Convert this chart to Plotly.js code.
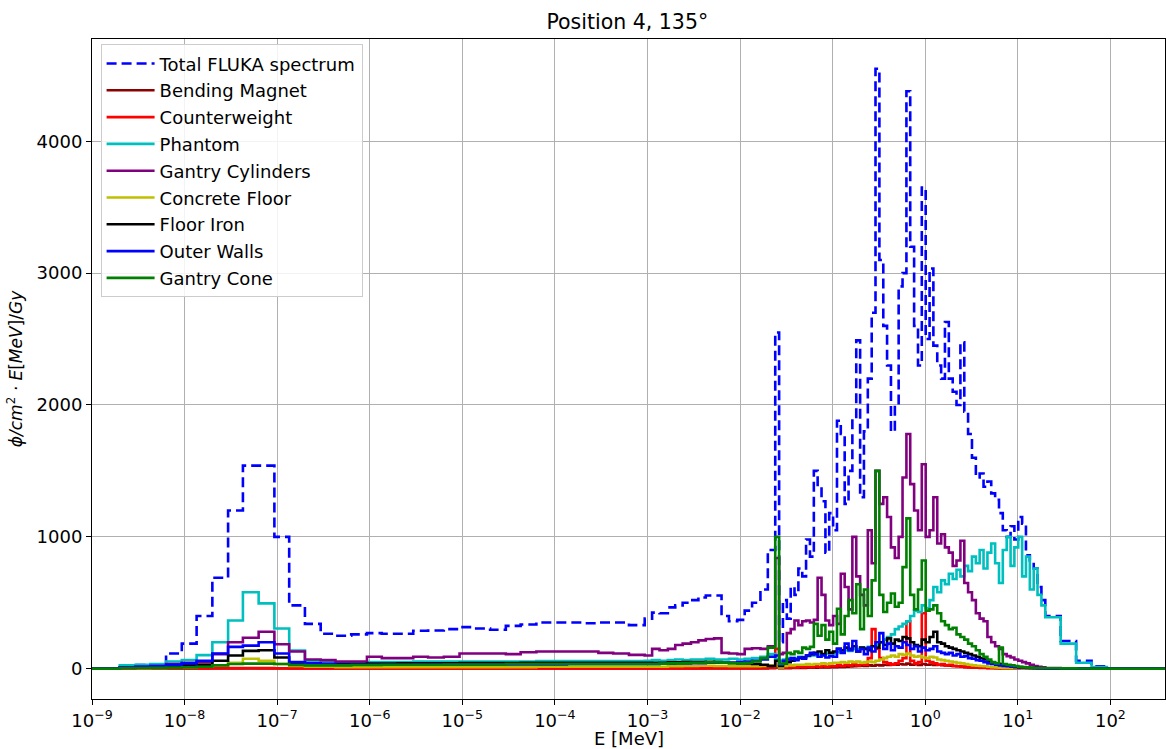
<!DOCTYPE html>
<html>
<head>
<meta charset="utf-8">
<script src="https://cdn.plot.ly/plotly-3.0.1.min.js"></script>
<style>html,body{margin:0;padding:0;background:#fff;}#chart{width:1166px;height:749px;}</style>
</head>
<body>
<div id="chart"></div>
<script>
// Energy bin edges, log10(E / MeV)
const binEdgeExponents = [
  -9.30,
  -8.70,-8.53,-8.37,-8.20,-8.03,-7.87,-7.70,-7.53,-7.37,-7.20,-7.03,-6.87,-6.70,-6.53,-6.37,-6.20,-6.03,-5.87,
  -5.70,-5.53,-5.37,-5.20,-5.03,-4.87,-4.70,-4.53,-4.37,-4.20,-4.03,-3.87,-3.70,-3.53,-3.37,-3.20,-3.03,
  -2.95,-2.87,-2.78,-2.70,-2.62,-2.53,-2.45,-2.37,-2.28,-2.20,-2.12,-2.03,-1.95,-1.87,-1.78,-1.70,-1.62,
  -1.578,-1.537,-1.495,-1.453,-1.412,-1.370,-1.328,-1.287,-1.245,-1.203,-1.162,-1.120,-1.078,-1.037,-0.995,
  -0.953,-0.912,-0.870,-0.828,-0.787,-0.745,-0.703,-0.662,-0.620,-0.578,-0.537,-0.495,-0.453,-0.412,-0.370,
  -0.328,-0.287,-0.245,-0.203,-0.162,-0.120,-0.078,-0.037,0.005,0.047,0.088,0.130,0.172,0.213,0.255,0.297,
  0.338,0.380,0.422,0.463,0.505,0.547,0.588,0.630,0.672,0.713,0.755,0.797,0.838,0.880,0.922,0.963,1.005,
  1.047,1.088,1.130,1.172,1.213,1.255,1.297,
  1.463,1.630,1.797,1.963,2.130,2.600
];

const totalFluka = [0,
  25,28,30,115,190,400,690,1200,1540,1540,1000,480,340,265,250,260,270,265,265,288,290,300,315,305,295,325,335,350,350,350,345,350,350,330,
  380,425,420,465,480,500,520,540,555,555,400,360,370,440,500,600,900,
  2550,200,520,380,620,560,760,700,980,850,
  1500,1380,1270,880,1180,1050,1880,1780,1250,1500,
  1900,2490,1300,1800,2200,2700,4550,3100,2600,2300,
  1800,2000,2900,3000,4380,3200,2600,2300,3650,2500,
  3035,2450,2300,2200,2630,2200,2100,2000,2475,1950,
  1780,1600,1450,1480,1380,1420,1330,1280,1180,1050,
  1000,1080,980,1150,1100,860,820,760,620,520,
  400,210,60,18,3,0];

const bendingMagnet = [0,
  1,1,1,1,1,1,2,2,2,2,2,1,1,1,1,1,1,1,1,1,1,1,1,1,1,1,1,1,1,1,1,1,1,1,
  2,2,2,2,2,2,2,2,2,2,2,2,2,2,2,2,3,
  10,3,4,4,5,5,6,6,7,8,
  8,9,10,10,12,12,14,14,15,16,
  18,20,22,20,25,22,28,25,30,28,
  32,30,35,32,38,30,34,28,36,30,
  32,28,30,26,25,22,20,18,16,14,
  12,10,9,8,7,6,5,4,4,3,
  3,2,2,2,1,1,1,1,1,1,
  0,0,0,0,0,0];

const counterweight = [0,
  1,1,1,2,2,2,3,4,5,4,3,2,2,2,2,2,2,2,2,2,2,2,2,2,2,2,2,2,2,2,2,2,2,2,
  2,2,2,2,2,2,2,2,3,3,3,3,3,3,4,5,8,
  150,5,8,10,12,10,15,12,15,12,
  18,15,20,15,20,18,25,20,30,25,
  35,25,40,30,80,300,150,80,50,40,
  30,40,60,80,360,60,40,50,420,60,
  50,40,30,35,25,30,20,18,15,12,
  10,8,7,6,5,4,3,3,2,2,
  2,1,1,1,1,1,1,1,1,1,
  0,0,0,0,0,0];

const phantom = [0,
  25,30,35,55,66,103,200,365,580,495,305,137,60,50,45,45,50,50,50,55,55,55,55,55,55,55,55,58,58,58,58,58,58,58,
  60,65,60,65,70,65,70,70,75,70,70,75,70,75,80,90,110,
  70,60,70,80,75,80,90,85,95,100,
  100,110,105,115,120,115,125,130,140,135,
  150,145,160,155,165,170,180,200,220,240,
  260,300,320,340,360,400,440,430,480,460,
  520,620,580,670,640,720,680,750,700,780,
  740,850,800,900,760,880,950,800,650,900,
  1000,780,920,1000,700,850,600,760,560,480,
  390,190,45,12,2,0];

const gantryCylinders = [0,
  10,15,20,35,45,50,110,200,235,280,185,130,70,65,55,55,90,80,80,90,85,90,115,115,115,110,125,130,130,130,130,120,115,105,
  100,150,140,150,180,190,200,215,225,230,120,115,110,150,155,150,170,
  840,110,120,270,300,365,330,360,365,350,
  370,690,560,365,330,400,340,720,620,450,
  1000,700,560,480,1050,800,1500,1250,1300,1150,
  920,840,1000,1450,1780,1400,1200,1050,1550,1000,
  1050,1300,950,1020,920,880,780,820,970,650,
  580,520,420,380,360,240,200,170,150,110,
  95,85,70,60,50,40,30,20,15,10,
  5,3,2,1,0,0];

const concreteFloor = [0,
  3,4,5,8,10,15,25,45,75,60,35,20,15,15,12,12,12,12,12,12,12,12,12,12,12,12,12,15,15,15,15,15,15,15,
  15,15,15,18,18,20,20,22,22,20,20,18,18,18,18,20,25,
  20,10,20,25,25,30,30,30,35,30,
  35,35,40,35,40,45,45,50,45,55,
  50,55,45,50,55,50,60,70,80,90,
  100,90,110,105,115,100,90,95,85,80,
  90,85,70,65,60,55,50,45,40,35,
  30,25,22,20,18,15,12,10,8,6,
  5,4,3,3,2,2,1,1,1,1,
  1,0,0,0,0,0];

const floorIron = [0,
  5,8,10,18,25,30,60,100,135,140,85,45,35,35,35,35,38,38,40,40,40,40,42,42,42,42,45,45,45,45,45,45,45,45,
  45,45,45,48,48,50,50,50,52,50,45,45,40,40,35,30,20,
  60,20,40,50,60,70,80,85,100,110,
  120,130,110,140,120,130,150,140,160,150,
  170,130,160,150,140,170,160,200,180,230,
  190,220,210,240,230,200,180,170,220,200,
  240,280,200,190,170,160,150,140,130,120,
  110,100,90,80,70,55,45,40,35,30,
  25,20,15,12,10,8,5,5,3,3,
  2,1,1,0,0,0];

const outerWalls = [0,
  10,15,20,30,40,60,115,165,175,200,115,50,40,35,30,30,30,30,30,32,32,32,32,32,32,32,32,32,32,35,35,35,35,35,
  35,35,38,38,40,40,42,42,45,45,45,45,50,55,60,70,90,
  100,30,60,70,80,65,85,75,100,120,
  110,90,100,85,95,90,150,120,190,140,
  210,130,150,110,160,130,200,270,150,190,
  140,170,160,200,180,150,170,130,160,140,
  150,170,130,120,110,120,100,110,90,95,
  80,75,65,60,50,40,35,30,25,20,
  18,15,12,10,8,6,5,4,3,3,
  2,1,1,0,0,0];

const gantryCone = [0,
  5,5,6,8,10,15,25,35,38,38,35,28,25,25,25,28,28,30,30,30,30,32,32,32,32,35,35,35,35,35,35,35,35,35,
  35,35,38,40,40,42,45,45,48,48,45,40,40,45,55,80,160,
  1000,35,40,120,110,130,120,160,150,165,
  340,250,330,220,280,190,455,260,400,520,
  420,640,300,600,400,670,1500,560,430,500,
  570,470,500,770,1140,560,450,600,820,440,
  450,480,420,360,330,300,310,260,240,220,
  190,170,140,110,90,70,50,40,160,35,
  30,25,20,15,12,10,8,5,5,5,
  3,2,1,0,0,0];

const seriesNames = ['Total FLUKA spectrum','Bending Magnet','Counterweight','Phantom','Gantry Cylinders',
  'Concrete Floor','Floor Iron','Outer Walls','Gantry Cone'];
const seriesValues = [totalFluka, bendingMagnet, counterweight, phantom, gantryCylinders,
  concreteFloor, floorIron, outerWalls, gantryCone];
const seriesColors = ['#0000ff','#8b0000','#ff0000','#00bfbf','#800080','#bfbf00','#000000','#0000ff','#008000'];

const xTickExponents = [-9,-8,-7,-6,-5,-4,-3,-2,-1,0,1,2];
const yTickValues = [0,1000,2000,3000,4000];

const edgesMeV = binEdgeExponents.map(e => Math.pow(10, e));

const traces = seriesValues.map((vals, i) => ({
  type: 'scatter',
  mode: 'lines',
  name: seriesNames[i],
  legendgroup: 'g' + i,
  x: edgesMeV,
  y: vals.concat([vals[vals.length - 1]]),
  line: {shape: 'hv', color: seriesColors[i], width: 2.6, dash: i === 0 ? '10px,5px' : 'solid'},
  hoverinfo: 'skip'
}));

const layout = {
  width: 1166, height: 749,
  margin: {l: 92, r: 1, t: 39, b: 50},
  paper_bgcolor: '#ffffff', plot_bgcolor: '#ffffff',
  font: {family: 'DejaVu Sans', size: 18, color: '#000'},
  title: {text: 'Position 4, 135°', x: 0.538, xanchor: 'center', y: 0.971, yanchor: 'middle', font: {size: 20.5, family: 'DejaVu Sans'}},
  showlegend: true,
  legend: {x: 0.008, y: 0.992, xanchor: 'left', yanchor: 'top', bgcolor: 'rgba(255,255,255,0.85)',
    bordercolor: '#cccccc', borderwidth: 1, font: {size: 18, family: 'DejaVu Sans'}, tracegroupgap: 0.4,
    itemwidth: 48},
  annotations: [{
    text: 'E [MeV]', xref: 'paper', yref: 'paper', x: 0.5, y: -0.0606,
    xanchor: 'center', yanchor: 'middle', showarrow: false, font: {size: 18, family: 'DejaVu Sans'}
  }],
  xaxis: {
    type: 'log', range: [-9, 2.59],
    tickvals: xTickExponents.map(e => Math.pow(10, e)),
    ticktext: xTickExponents.map(e => '10<sup>' + (e < 0 ? '−' + (-e) : e) + '</sup>'),
    showgrid: true, gridcolor: '#b0b0b0', gridwidth: 1,
    showline: true, linecolor: '#000', linewidth: 1, mirror: true,
    ticks: 'outside', ticklen: 5, tickcolor: '#000', tickwidth: 1,
    tickfont: {size: 18},
    zeroline: false
  },
  yaxis: {
    range: [-230, 4776],
    tickvals: yTickValues,
    ticktext: yTickValues.map(String),
    showgrid: true, gridcolor: '#b0b0b0', gridwidth: 1,
    showline: true, linecolor: '#000', linewidth: 1, mirror: true,
    ticks: 'outside', ticklen: 5, tickcolor: '#000', tickwidth: 1,
    tickfont: {size: 18},
    zeroline: false,
    title: {text: '<i>ϕ/cm</i><sup>2</sup><i> · E</i>[<i>MeV</i>]/<i>Gy</i>', font: {size: 17}, standoff: 9}
  }
};

Plotly.newPlot('chart', traces, layout, {staticPlot: true, displayModeBar: false});
</script>
</body>
</html>
